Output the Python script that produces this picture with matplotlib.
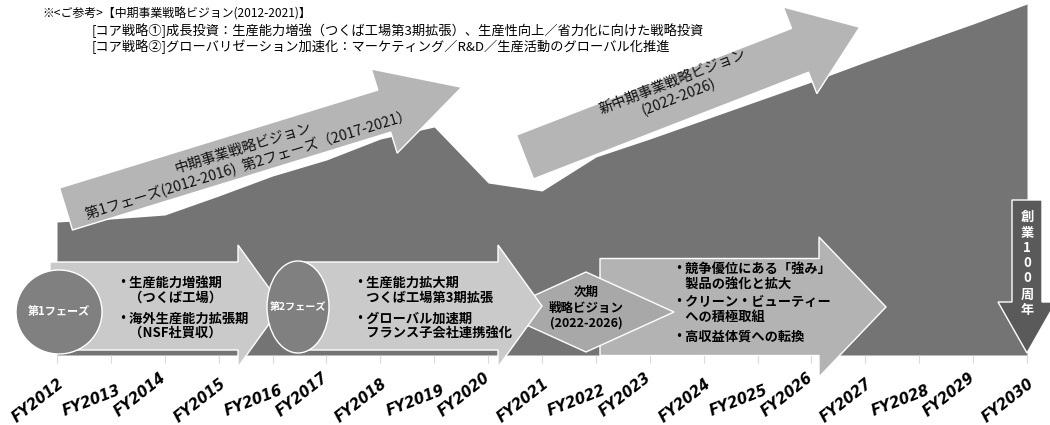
import numpy as np
import matplotlib.pyplot as plt
import matplotlib.transforms as mtransforms
from matplotlib.patches import Polygon, Ellipse

plt.rcParams['font.family'] = ['Noto Sans CJK JP', 'DejaVu Sans']

# data (relative level)
fiscal_years = ['FY2012', 'FY2013', 'FY2014', 'FY2015', 'FY2016', 'FY2017', 'FY2018',
                'FY2019', 'FY2020', 'FY2021', 'FY2022', 'FY2023', 'FY2024', 'FY2025',
                'FY2026', 'FY2027', 'FY2028', 'FY2029', 'FY2030']
sales_index = [133, 136, 140, 159, 179, 195, 216, 228, 172, 164, 198, 216, 235, 254,
               273, 293, 312, 331, 351]

header_lines = ['※<ご参考>【中期事業戦略ビジョン(2012-2021)】',
                '[コア戦略①]成長投資：生産能力増強（つくば工場第3期拡張）、生産性向上／省力化に向けた戦略投資',
                '[コア戦略②]グローバリゼーション加速化：マーケティング／R&D／生産活動のグローバル化推進']
phase1_lines = ['・生産能力増強期', '　（つくば工場）', '・海外生産能力拡張期', '　（NSF社買収）']
phase2_lines = ['・生産能力拡大期', '　つくば工場第3期拡張', '・グローバル加速期', '　フランス子会社連携強化']
next_lines = ['・競争優位にある「強み」', '　製品の強化と拡大', '・クリーン・ビューティー',
              '　への積極取組', '・高収益体質への転換']


def block_arrow(ax, tail, angle, length, shaft_w, head_w, head_len, color, z):
    a = np.radians(angle)
    d = np.array([np.cos(a), -np.sin(a)])
    n = np.array([np.sin(a), np.cos(a)])
    body = length - head_len
    pts = [(0, -shaft_w / 2), (body, -shaft_w / 2), (body, -head_w / 2), (length, 0),
           (body, head_w / 2), (body, shaft_w / 2), (0, shaft_w / 2)]
    xy = [np.array(tail) + u * d + v * n for u, v in pts]
    ax.add_patch(Polygon(xy, closed=True, fc=color, ec='white', lw=1, zorder=z))


fig = plt.figure(figsize=(10.5, 4.25), dpi=100)

# main area chart
ax = fig.add_axes([0, 70 / 425, 1, 355 / 425])
x = np.arange(len(fiscal_years))
ax.fill_between(x, 0, sales_index, color='#747474', lw=0)
step = 53.89
ax.set_xlim(-57 / step, -57 / step + 1050 / step)
ax.set_ylim(0, 355)
for s in ax.spines.values():
    s.set_visible(False)
ax.set_yticks([])
ax.set_xticks(x)
ax.set_xticklabels([])
ax.tick_params(axis='x', length=6, color='#d9d9d9', width=0.8)

# overlay in pixel coordinates
ov = fig.add_axes([0, 0, 1, 1])
ov.set_xlim(0, 1050)
ov.set_ylim(425, 0)
ov.axis('off')
ov.patch.set_visible(False)

# year labels, slanted, centred a little left of and below each tick
for i, lab in zip(x, fiscal_years):
    px = ax.transData.transform((i, 0))[0]
    cx, cy = px - 19, 401
    if i % 3 == 0:
        ov.text(cx, cy, lab, rotation=38, rotation_mode='anchor', ha='center',
                va='center', fontsize=10.5, fontweight='bold', fontstyle='italic',
                family='DejaVu Sans', zorder=5)
    elif i % 3 == 1:
        ov.text(cx, cy, lab, rotation=21.2, rotation_mode='anchor', ha='center',
                va='center', fontsize=10.5, fontweight='bold', fontstyle='italic',
                family='DejaVu Sans', zorder=5)
    else:
        ov.text(cx, cy, lab + '\n', rotation=38, rotation_mode='anchor', ha='center',
                va='center', multialignment='center', fontsize=10.5, fontweight='bold',
                fontstyle='italic', family='DejaVu Sans', zorder=5)

# strategy vision arrows
block_arrow(ov, (66, 209), 17.1, 414, 44, 88, 81, '#b5b5b5', 2)
ov.text(246, 157, '中期事業戦略ビジョン\n第1フェーズ(2012-2016)  第2フェーズ（2017-2021）',
        rotation=17.1, ha='center', va='center', multialignment='center',
        fontsize=10.3, color='#111111', rotation_mode='anchor', zorder=5)
block_arrow(ov, (525, 157), 21.2, 359, 47, 93, 64, '#b5b5b5', 2)
ov.text(676, 90, '新中期事業戦略ビジョン\n(2022-2026)', rotation=21.2, ha='center',
        va='center', multialignment='center', fontsize=10.3, color='#111111',
        rotation_mode='anchor', zorder=5)

# phase arrows
block_arrow(ov, (600, 307), 0, 286, 97, 140, 67, '#b3b3b3', 3)
diamond = [(498, 312), (586, 272), (674, 312), (586, 352)]
ov.add_patch(Polygon(diamond, closed=True, fc='#a8a8a8', ec='white', lw=1, zorder=4))
block_arrow(ov, (50, 306), 0, 232, 88, 122, 44, '#cacaca', 5)
ov.add_patch(Ellipse((59, 312), 86, 84, fc='#808080', ec='white', lw=1, zorder=6))
block_arrow(ov, (300, 306), 0, 242, 88, 122, 44, '#cacaca', 7)
ov.add_patch(Ellipse((298, 307), 62, 92, fc='#808080', ec='white', lw=1, zorder=8))

ov.text(59, 312, '第1フェーズ', color='white', fontsize=8, fontweight='bold',
        ha='center', va='center', zorder=9)
ov.text(298, 307, '第2フェーズ', color='white', fontsize=7.3, fontweight='bold',
        ha='center', va='center', zorder=9)
ov.text(586, 308, '次期\n戦略ビジョン\n(2022-2026)', fontsize=9, fontweight='bold',
        ha='center', va='center', multialignment='center', linespacing=1.25, zorder=9)

for txt, yy in zip(phase1_lines, [283, 298, 319, 333]):
    ov.text(116, yy, txt, fontsize=9.5, fontweight='bold', ha='left', va='center', zorder=9)
for txt, yy in zip(phase2_lines, [283, 298, 319, 333]):
    ov.text(353, yy, txt, fontsize=9.5, fontweight='bold', ha='left', va='center', zorder=9)
for txt, yy in zip(next_lines, [269, 284, 302, 317, 337]):
    ov.text(672, yy, txt, fontsize=9.5, fontweight='bold', ha='left', va='center', zorder=9)

# 100th anniversary arrow
block_arrow(ov, (1027, 200), -90, 153, 30, 58, 51, '#5a5a5a', 6)
for ch, yy in zip('創業100周年', [217, 233, 248, 263, 278, 295, 310]):
    ov.text(1027, yy, ch, color='white', fontsize=9.5, fontweight='bold',
            ha='center', va='center', zorder=9)

# header notes
ov.text(42, 14, header_lines[0], fontsize=8.6, ha='left', va='center')
ov.text(92, 31, header_lines[1], fontsize=9.5, ha='left', va='center')
ov.text(92, 47, header_lines[2], fontsize=9.5, ha='left', va='center')

fig.savefig('out.png', dpi=100)
